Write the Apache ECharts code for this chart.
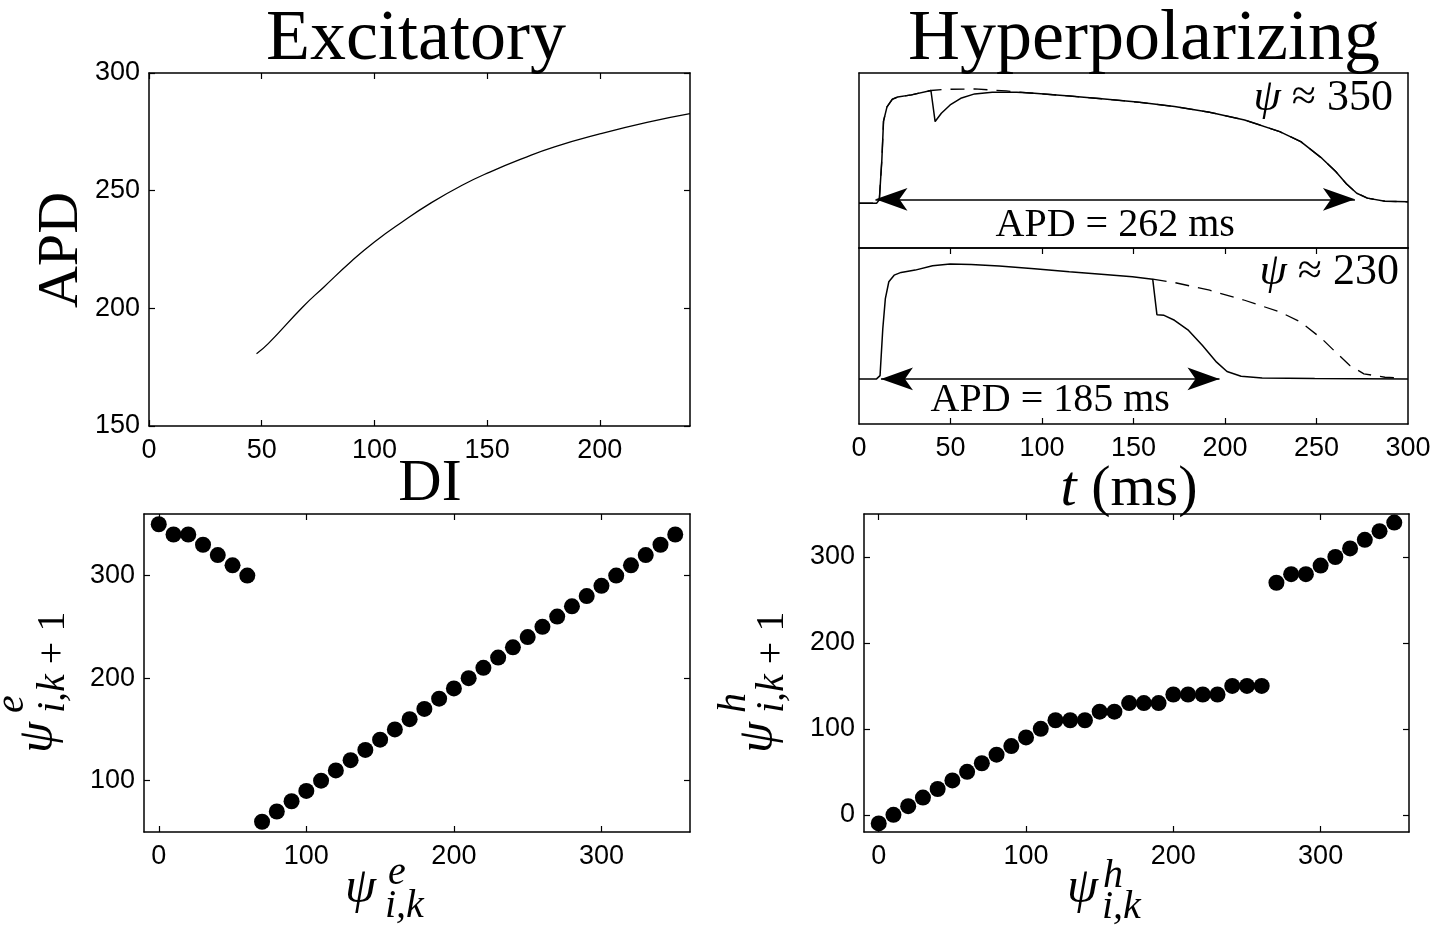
<!DOCTYPE html>
<html>
<head>
<meta charset="utf-8">
<script src="https://cdn.jsdelivr.net/npm/echarts@6/dist/echarts.min.js"></script>
<style>
  html, body { margin: 0; padding: 0; background: #fff; }
  #chart { width: 1445px; height: 933px; }
</style>
</head>
<body>
<div id="chart"></div>
<script>
// ---- Restitution curve (excitatory): APD as a function of DI ----
const restDI  = [47.7, 52.9, 68.2, 77.5, 89.8, 100.0, 112.3, 124.6, 138.9, 151.2, 165.6, 179.9, 200.4, 220.9, 240.0];
const restAPD = [180.7, 185.0, 200.6, 209.0, 220.0, 228.2, 236.7, 244.5, 252.3, 257.9, 263.6, 268.6, 274.2, 279.0, 282.7];

// ---- Action potentials with a hyperpolarizing stimulus (time in ms, voltage in mV) ----
// psi ~ 350: stimulated trace
const apT350 = [0, 9.6, 11.1, 12.5, 13.4, 15.3, 18.2, 21.1, 28.7, 39.3, 41.6, 45.0, 49.8, 55.6, 63.2, 72.8, 86.2, 95.8, 114.9, 134.1, 153.3, 172.4, 191.6, 210.7, 229.9, 241.4, 252.9, 260.5, 266.3, 272.0, 277.8, 287.4, 300];
const apV350 = [-85, -85, -82, -45, -10, 3, 10, 12, 14, 18, -10.4, -2.8, 4.8, 10.9, 14.9, 16.4, 16.4, 15.4, 13, 10.3, 7.2, 3.3, -1.9, -8.9, -19.6, -28.7, -43.9, -56.1, -67.3, -75.9, -80.4, -83.2, -83.8];
// psi ~ 350: unstimulated control trace
const ctT350 = [0, 9.6, 11.1, 12.5, 13.4, 15.3, 18.2, 21.1, 28.7, 39.3, 47.9, 63.2, 80.5, 95.8, 114.9, 134.1, 153.3, 172.4, 191.6, 210.7, 229.9, 241.4, 252.9, 260.5, 266.3, 272.0, 277.8, 287.4, 300];
const ctV350 = [-85, -85, -82, -45, -10, 3, 10, 12, 14, 18, 19.1, 19.4, 17.6, 15.4, 13, 10.3, 7.2, 3.3, -1.9, -8.9, -19.6, -28.7, -43.9, -56.1, -67.3, -75.9, -80.4, -83.2, -83.8];
// psi ~ 230: stimulated trace
const apT230 = [0, 9.6, 11.5, 13.0, 14.4, 16.3, 19.2, 23.0, 30.7, 40.2, 49.8, 61.3, 76.6, 95.8, 114.9, 134.1, 149.4, 160.5, 162.8, 166.7, 172.4, 180.1, 187.7, 195.4, 201.1, 208.8, 220.3, 249.0, 300];
const apV230 = [-85, -85, -82, -39.4, -12, 3.3, 9.3, 11.8, 13.9, 17.9, 19.4, 19.1, 17.6, 15.1, 12.4, 10, 7.8, 5.7, -26.6, -27.2, -31.7, -40.9, -54.6, -69.8, -78.3, -82.6, -84.1, -84.7, -85];
// psi ~ 230: unstimulated control trace (after the stimulus time)
const ctT230 = [160.5, 172.4, 191.6, 210.7, 229.9, 241.4, 252.9, 260.5, 268.2, 275.9, 287.4, 296.9];
const ctV230 = [5.7, 2.6, -4.4, -13.5, -24.1, -33.3, -48.5, -60.7, -72.8, -80.4, -83.5, -84.4];

// Phase of the stimulus and resulting action potential durations
const psiValues   = [350, 230];
const apdValues   = [262, 185];
const apdOnset    = [9, 12];       // ms, where each APD arrow begins
const apdArrowV   = [-81.5, -85];  // mV, height of each arrow

// ---- Phase maps psi_{i,k} -> psi_{i,k+1} ----
const exPsiK    = [0, 10, 20, 30, 40, 50, 60, 70, 80, 90, 100, 110, 120, 130, 140, 150, 160, 170, 180, 190, 200, 210, 220, 230, 240, 250, 260, 270, 280, 290, 300, 310, 320, 330, 340, 350];
const exPsiNext = [350, 340, 340, 330, 320, 310, 300, 60, 70, 80, 90, 100, 110, 120, 130, 140, 150, 160, 170, 180, 190, 200, 210, 220, 230, 240, 250, 260, 270, 280, 290, 300, 310, 320, 330, 340];
const hyPsiK    = [0, 10, 20, 30, 40, 50, 60, 70, 80, 90, 100, 110, 120, 130, 140, 150, 160, 170, 180, 190, 200, 210, 220, 230, 240, 250, 260, 270, 280, 290, 300, 310, 320, 330, 340, 350];
const hyPsiNext = [-10, 0, 10, 20, 30, 40, 50, 60, 70, 80, 90, 100, 110, 110, 110, 120, 120, 130, 130, 130, 140, 140, 140, 140, 150, 150, 150, 270, 280, 280, 290, 300, 310, 320, 330, 340];

// ---- Tick values ----
const restXTicks = [0, 50, 100, 150, 200];
const restYTicks = [150, 200, 250, 300];
const timeTicks  = [0, 50, 100, 150, 200, 250, 300];
const timeInner  = [50, 100, 150, 200, 250];
const mapXTicks  = [0, 100, 200, 300];
const exYTicks   = [100, 200, 300];
const hyYTicks   = [0, 100, 200, 300];

const BLACK = '#000';
const SERIF = 'Liberation Serif';
const SANS = 'Liberation Sans';

const zip = (a, b) => a.map((v, i) => [v, b[i]]);

// Builds a boxed pair of axes (main + mirrored) for one grid
function axisPair(dim, grid, min, max, ticks, labels) {
  const mk = (mirror) => ({
    gridIndex: grid,
    type: 'value',
    min: min,
    max: max,
    position: dim === 'x' ? (mirror ? 'top' : 'bottom') : (mirror ? 'right' : 'left'),
    axisLine: { show: true, onZero: false, lineStyle: { color: BLACK, width: 1.5 } },
    axisTick: {
      show: ticks.length > 0, inside: true, length: 6,
      customValues: ticks.length ? ticks : undefined,
      lineStyle: { color: BLACK, width: 1.2 }
    },
    axisLabel: {
      show: !mirror && labels.length > 0,
      customValues: labels.length ? labels : undefined,
      color: BLACK, fontFamily: SANS, fontSize: 27, margin: dim === 'x' ? 11 : 9
    },
    splitLine: { show: false }
  });
  return [mk(false), mk(true)];
}

const grids = [
  { left: 149, top: 73, width: 541, height: 353 },   // restitution
  { left: 859, top: 73, width: 549, height: 175 },   // psi ~ 350
  { left: 859, top: 248, width: 549, height: 176 },  // psi ~ 230
  { left: 144, top: 514, width: 546, height: 318 },  // excitatory map
  { left: 864, top: 514, width: 545, height: 318 }   // hyperpolarizing map
];

const xAxes = [].concat(
  axisPair('x', 0, 0, 240, restXTicks, restXTicks),
  axisPair('x', 1, 0, 300, [], []),
  axisPair('x', 2, 0, 300, timeInner, timeTicks),
  axisPair('x', 3, -10, 360, mapXTicks, mapXTicks),
  axisPair('x', 4, -10, 360, mapXTicks, mapXTicks)
);
const yAxes = [].concat(
  axisPair('y', 0, 150, 300, restYTicks, restYTicks),
  axisPair('y', 1, -126, 34, [], []),
  axisPair('y', 2, -126, 34, [], []),
  axisPair('y', 3, 50, 360, exYTicks, exYTicks),
  axisPair('y', 4, -20, 350, hyYTicks, hyYTicks)
);

// Double-headed arrow spanning the action potential duration
function apdMarker(k) {
  return {
    silent: true,
    symbol: ['arrow', 'arrow'],
    symbolSize: [17, 32],
    lineStyle: { color: BLACK, width: 1.5, type: 'solid' },
    label: {
      show: true,
      position: 'insideMiddleBottom',
      distance: k === 0 ? 6 : 2,
      formatter: 'APD = ' + apdValues[k] + ' ms',
      color: BLACK, fontFamily: SERIF, fontSize: 40
    },
    emphasis: { disabled: true },
    data: [[
      { coord: [apdOnset[k], apdArrowV[k]] },
      { coord: [apdOnset[k] + apdValues[k], apdArrowV[k]] }
    ]]
  };
}

const traceLine = (xi, t, v, dashed, marker) => ({
  type: 'line',
  xAxisIndex: xi, yAxisIndex: xi,
  data: zip(t, v),
  showSymbol: false,
  lineStyle: { color: BLACK, width: dashed ? 1.3 : 1.5, type: dashed ? [14, 9] : 'solid' },
  z: dashed ? 2 : 3,
  markLine: marker
});

const dots = (xi, xs, ys) => ({
  type: 'scatter',
  xAxisIndex: xi, yAxisIndex: xi,
  data: zip(xs, ys),
  symbol: 'circle',
  symbolSize: 16,
  itemStyle: { color: BLACK, opacity: 1 }
});

// Math-style label: psi with a superscript and a subscript
function psiLabel(x, y, rot, sup, supDx, supDy, sub, subDx, subDy) {
  const F = 50, S = 40, k = 0.34;
  const it = { fontFamily: SERIF, fontStyle: 'italic', fontSize: S, fill: BLACK };
  const rm = { fontFamily: SERIF, fontStyle: 'normal', fontSize: S, fill: BLACK };
  return {
    type: 'group', x: x, y: y, rotation: rot, silent: true,
    children: [
      { type: 'text', x: 0, y: -k * F, style: { text: '\u03C8', fontFamily: SERIF, fontStyle: 'italic', fontSize: F, fill: BLACK, verticalAlign: 'middle' } },
      { type: 'text', x: supDx, y: supDy - k * S, style: Object.assign({ text: sup, verticalAlign: 'middle' }, it) },
      { type: 'text', x: subDx, y: subDy - k * S, style: { text: sub, verticalAlign: 'middle', fontFamily: SERIF, fontSize: S, fill: BLACK, rich: { i: it, r: rm } } }
    ]
  };
}

const serifText = (x, y, text, size, rot) => ({
  type: 'text', x: x, y: y, rotation: rot || 0, silent: true,
  style: { text: text, fontFamily: SERIF, fontSize: size, fill: BLACK, align: 'center', verticalAlign: 'middle' }
});

const psiNote = (x, y, k) => ({
  type: 'text', x: x, y: y, silent: true,
  style: {
    text: '{p|\u03C8} {r|\u2248 ' + psiValues[k] + '}',
    align: 'right', verticalAlign: 'middle', fontFamily: SERIF, fontSize: 44, fill: BLACK,
    rich: {
      p: { fontFamily: SERIF, fontStyle: 'italic', fontSize: 44, fill: BLACK },
      r: { fontFamily: SERIF, fontSize: 44, fill: BLACK }
    }
  }
});

const option = {
  animation: false,
  backgroundColor: '#fff',
  grid: grids,
  xAxis: xAxes,
  yAxis: yAxes,
  series: [
    {
      type: 'line', xAxisIndex: 0, yAxisIndex: 0,
      data: zip(restDI, restAPD), showSymbol: false,
      smooth: 0.5,
      lineStyle: { color: BLACK, width: 1.3 }
    },
    traceLine(2, ctT350, ctV350, true),
    traceLine(2, apT350, apV350, false, apdMarker(0)),
    traceLine(4, ctT230, ctV230, true),
    traceLine(4, apT230, apV230, false, apdMarker(1)),
    dots(6, exPsiK, exPsiNext),
    dots(8, hyPsiK, hyPsiNext)
  ],
  graphic: [
    serifText(416, 40, 'Excitatory', 72),
    serifText(1144, 40, 'Hyperpolarizing', 72),
    serifText(62, 250, 'APD', 58, Math.PI / 2),
    serifText(430, 484, 'DI', 60),
    {
      type: 'text', x: 1129, y: 490, silent: true,
      style: {
        text: '{i|t} {r|(ms)}', align: 'center', verticalAlign: 'middle',
        fontFamily: SERIF, fontSize: 58, fill: BLACK,
        rich: {
          i: { fontFamily: SERIF, fontStyle: 'italic', fontSize: 58, fill: BLACK },
          r: { fontFamily: SERIF, fontSize: 58, fill: BLACK }
        }
      }
    },
    psiNote(1393, 98, 0),
    psiNote(1399, 272, 1),
    psiLabel(345, 906, 0, 'e', 43, -19, '{i|i,k}', 40, 14),
    psiLabel(1067, 906, 0, 'h', 36, -16, '{i|i,k}', 35, 15),
    psiLabel(56, 753, Math.PI / 2, 'e', 40, -30, '{i|i,k}{r| + 1}', 40, 11),
    psiLabel(776, 753, Math.PI / 2, 'h', 40, -28, '{i|i,k}{r| + 1}', 40, 10)
  ]
};

const chart = echarts.init(document.getElementById('chart'), null, { renderer: 'canvas' });
chart.setOption(option);
</script>
</body>
</html>
